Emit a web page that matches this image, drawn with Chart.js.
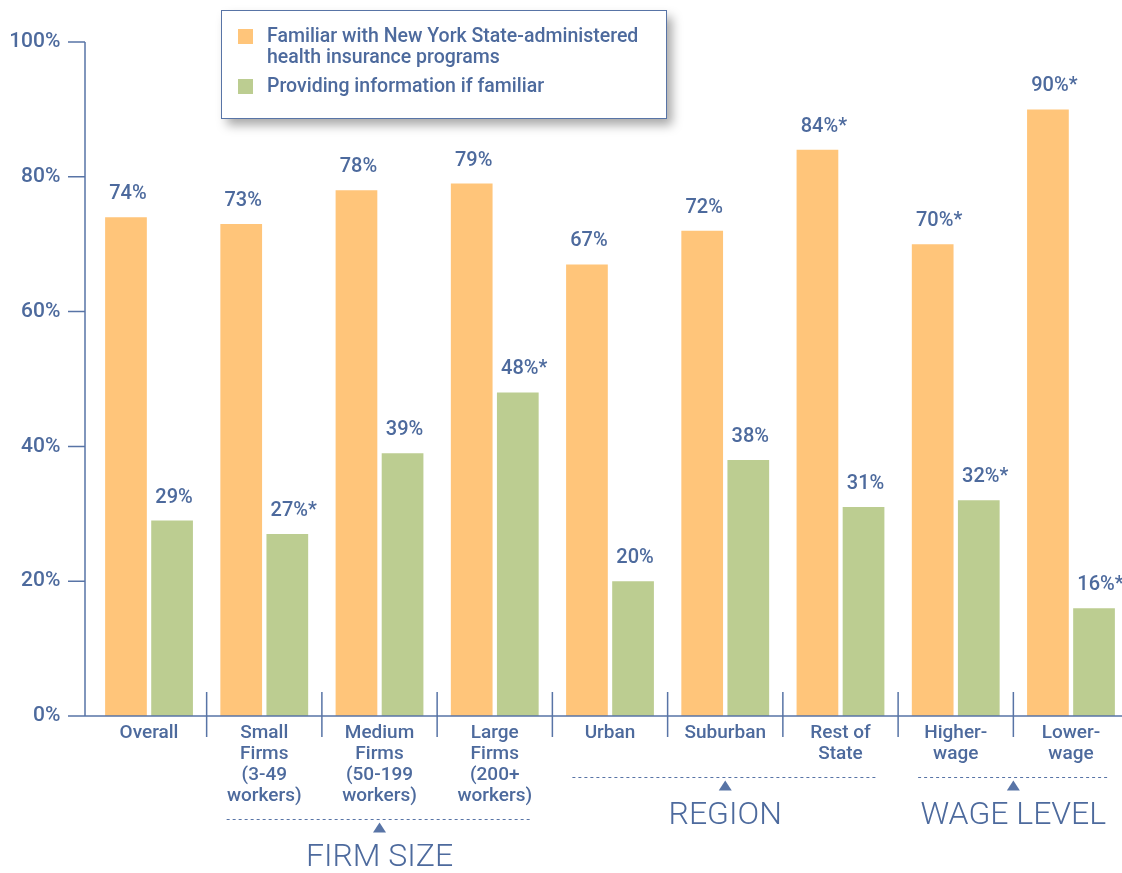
<!DOCTYPE html>
<html>
<head>
<meta charset="utf-8">
<script src="https://cdn.jsdelivr.net/npm/chart.js@4.4.0/dist/chart.umd.min.js"></script>
<style>
  html, body { margin: 0; padding: 0; background: #ffffff; overflow: hidden; }
  #wrap { position: relative; width: 1140px; height: 873px; }
</style>
</head>
<body>
<div id="wrap"><canvas id="familiarChart"></canvas></div>
<script>
// Familiarity with state health programs, by employer group
const categories = [
    ['Overall'],
    ['Small', 'Firms', '(3-49', 'workers)'],
    ['Medium', 'Firms', '(50-199', 'workers)'],
    ['Large', 'Firms', '(200+', 'workers)'],
    ['Urban'],
    ['Suburban'],
    ['Rest of', 'State'],
    ['Higher-', 'wage'],
    ['Lower-', 'wage']
];
const familiarValues  = [74, 73, 78, 79, 67, 72, 84, 70, 90];
const providingValues = [29, 27, 39, 48, 20, 38, 31, 32, 16];
// asterisk marks a significant difference
const familiarStars  = [false, false, false, false, false, false, true, true, true];
const providingStars = [false, true, false, true, false, false, false, true, true];
const yTicks = [0, 20, 40, 60, 80, 100];
const legendLines = [
    ['Familiar with New York State-administered', 'health insurance programs'],
    ['Providing information if familiar']
];
const groups = [
    { label: 'FIRM SIZE', from: 1, to: 3 },
    { label: 'REGION', from: 4, to: 6 },
    { label: 'WAGE LEVEL', from: 7, to: 8 }
];

const BLUE_TEXT = '#4d6a9d';
const BLUE_LINE = '#5874a6';
const ORANGE = '#ffc57a';
const GREEN = '#bccd91';
const FONT = 'Roboto, "DejaVu Sans", sans-serif';
const LINE_H = 21;

// axis lines, tick marks, separators and group brackets
const axisDecor = {
    id: 'axisDecor',
    afterDraw(chart) {
        const { ctx, scales } = chart;
        const x = scales.x, y = scales.y;
        const axisX = 85;
        const base = y.getPixelForValue(0);
        ctx.save();
        ctx.strokeStyle = BLUE_LINE;
        ctx.lineWidth = 1.5;
        ctx.beginPath();
        ctx.moveTo(axisX, y.getPixelForValue(100));
        ctx.lineTo(axisX, base);
        ctx.lineTo(1122, base);
        yTicks.forEach(v => {
            const py = y.getPixelForValue(v);
            ctx.moveTo(68, py);
            ctx.lineTo(axisX, py);
        });
        for (let i = 1; i < categories.length; i++) {
            const px = (x.getPixelForValue(i - 1) + x.getPixelForValue(i)) / 2;
            ctx.moveTo(px, base - 24);
            ctx.lineTo(px, base + 21);
        }
        ctx.stroke();

        const step = x.getPixelForValue(1) - x.getPixelForValue(0);
        groups.forEach(g => {
            const left = x.getPixelForValue(g.from) - step / 2;
            const right = x.getPixelForValue(g.to) + step / 2;
            const cx = (left + right) / 2;
            let lines = 0;
            for (let i = g.from; i <= g.to; i++) lines = Math.max(lines, categories[i].length);
            const lineY = Math.round(base + 19 + lines * LINE_H);
            ctx.save();
            ctx.lineWidth = 1;
            ctx.setLineDash([3, 3]);
            ctx.beginPath();
            ctx.moveTo(left + 20, lineY + 0.5);
            ctx.lineTo(right - 20, lineY + 0.5);
            ctx.stroke();
            ctx.restore();
            ctx.fillStyle = BLUE_LINE;
            ctx.beginPath();
            ctx.moveTo(cx, lineY + 3.5);
            ctx.lineTo(cx + 6.5, lineY + 13.5);
            ctx.lineTo(cx - 6.5, lineY + 13.5);
            ctx.closePath();
            ctx.fill();
            ctx.fillStyle = BLUE_TEXT;
            ctx.font = '300 32px ' + FONT;
            ctx.textAlign = 'center';
            ctx.textBaseline = 'middle';
            ctx.fillText(g.label, cx, lineY + 39);
        });
        ctx.restore();
    }
};

// percentage labels above each bar
const valueLabels = {
    id: 'valueLabels',
    afterDatasetsDraw(chart) {
        const { ctx } = chart;
        const stars = [familiarStars, providingStars];
        ctx.save();
        ctx.fillStyle = BLUE_TEXT;
        ctx.font = '500 20px ' + FONT;
        ctx.textAlign = 'left';
        ctx.textBaseline = 'middle';
        chart.data.datasets.forEach((ds, di) => {
            chart.getDatasetMeta(di).data.forEach((bar, i) => {
                const num = ds.data[i] + '%';
                const w = ctx.measureText(num).width;
                ctx.fillText(num + (stars[di][i] ? '*' : ''), bar.x - w / 2 + 2, bar.y - 23);
            });
        });
        ctx.restore();
    }
};

// boxed legend with drop shadow
const boxLegend = {
    id: 'boxLegend',
    afterDraw(chart) {
        const { ctx } = chart;
        const bx = 221.5, by = 10.5, bw = 445, bh = 108;
        ctx.save();
        ctx.shadowColor = 'rgba(0, 0, 0, 0.35)';
        ctx.shadowBlur = 10;
        ctx.shadowOffsetX = 5;
        ctx.shadowOffsetY = 6;
        ctx.fillStyle = '#ffffff';
        ctx.fillRect(bx, by, bw, bh);
        ctx.shadowColor = 'transparent';
        ctx.strokeStyle = BLUE_LINE;
        ctx.lineWidth = 1;
        ctx.strokeRect(bx, by, bw, bh);

        ctx.font = '500 19.5px ' + FONT;
        ctx.textBaseline = 'middle';
        ctx.textAlign = 'left';
        let ly = 37;
        chart.data.datasets.forEach((ds, di) => {
            ctx.fillStyle = ds.backgroundColor;
            ctx.fillRect(238, ly - 8, 15, 15);
            ctx.fillStyle = BLUE_TEXT;
            legendLines[di].forEach((t, k) => ctx.fillText(t, 267, ly + k * LINE_H));
            ly += (legendLines[di].length - 1) * LINE_H + 29;
        });
        ctx.restore();
    }
};

new Chart(document.getElementById('familiarChart'), {
    type: 'bar',
    data: {
        labels: categories,
        datasets: [
            {
                label: legendLines[0].join(' '),
                data: familiarValues,
                backgroundColor: ORANGE,
                categoryPercentage: 0.8,
                barPercentage: 0.905
            },
            {
                label: legendLines[1].join(' '),
                data: providingValues,
                backgroundColor: GREEN,
                categoryPercentage: 0.8,
                barPercentage: 0.905
            }
        ]
    },
    plugins: [valueLabels, axisDecor, boxLegend],
    options: {
        responsive: true,
        maintainAspectRatio: false,
        animation: false,
        layout: { padding: { top: 42, right: 11.4, left: 0, bottom: 0 } },
        scales: {
            x: {
                grid: { display: false },
                border: { display: false },
                ticks: {
                    color: BLUE_TEXT,
                    font: { family: FONT, size: 19, weight: '500', lineHeight: LINE_H / 19 },
                    padding: -1,
                    autoSkip: false,
                    maxRotation: 0
                },
                afterFit(scale) { scale.height = 157; }
            },
            y: {
                min: 0,
                max: 100,
                grid: { display: false },
                border: { display: false },
                ticks: {
                    stepSize: 20,
                    color: BLUE_TEXT,
                    font: { family: FONT, size: 21, weight: '500' },
                    padding: 23,
                    callback: v => v + '%'
                },
                afterFit(scale) { scale.width = 91.4; }
            }
        },
        plugins: {
            legend: { display: false },
            tooltip: { enabled: false }
        }
    }
});
</script>
</body>
</html>
